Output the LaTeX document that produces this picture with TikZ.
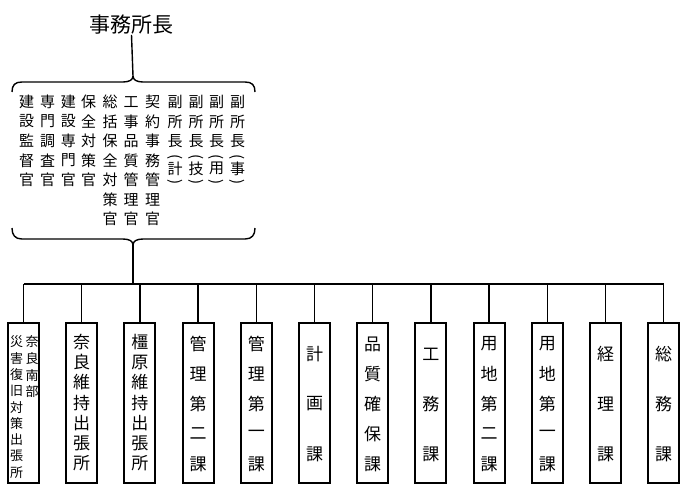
\documentclass[tikz,border=0pt]{standalone}
\usepackage{fontspec}
\newfontfamily\jp{Noto Sans CJK JP}
\newcommand\vtext[6][]{\foreach \c [count=\i] in {#6} {\node[#1] (#2-\i) at (#3, {#4+(\i-1)*#5}) {\c};}}
\begin{document}
\begin{tikzpicture}[x=1pt,y=-1pt,
  ch/.style={inner sep=0pt, font=\jp\fontsize{15}{15}\selectfont},
  par/.style={inner sep=0pt, font=\jp\fontsize{15}{15}\selectfont, rotate=-90},
  boxch/.style={inner sep=0pt, font=\jp\fontsize{17}{17}\selectfont},
  smallch/.style={inner sep=0pt, font=\jp\fontsize{13}{13}\selectfont},
  titletext/.style={inner sep=0pt, font=\jp\fontsize{21}{21}\selectfont},
  unit/.style={draw, line width=1.9pt, minimum width=31pt, minimum height=160pt, inner sep=0pt},
  link/.style={line width=1.4pt}]
\useasboundingbox (0,0) rectangle (700,500);
\fill[white] (0,0) rectangle (700,500);

% title
\node[titletext] (title) at (131.5,25) {事務所長};
\coordinate (ttip) at (133,76);
\coordinate (btip) at (133,245);
\coordinate (hub) at (133,284);
\draw[link] (title.south) -- (ttip);

% braces
\draw[link] (12,92) .. controls (12,85) and (15,82) .. (22,82) -- (123,82) .. controls (129,82) and (133,80) .. (ttip);
\draw[link] (255,92) .. controls (255,85) and (252,82) .. (245,82) -- (143,82) .. controls (137,82) and (133,80) .. (ttip);
\draw[link] (12,228) .. controls (12,235) and (15,239) .. (22,239) -- (123,239) .. controls (129,239) and (133,241) .. (btip);
\draw[link] (255,228) .. controls (255,235) and (252,239) .. (245,239) -- (143,239) .. controls (137,239) and (133,241) .. (btip);
\draw[link] (btip) -- (hub);

% staff columns
\vtext[ch]{u1}{26.7}{102}{19.5}{建,設,監,督,官}
\vtext[ch]{u2}{47.5}{102}{19.5}{専,門,調,査,官}
\vtext[ch]{u3}{68.3}{102}{19.5}{建,設,専,門,官}
\vtext[ch]{u4}{88.5}{102}{19.5}{保,全,対,策,官}
\vtext[ch]{u5}{110}{102}{19.5}{総,括,保,全,対,策,官}
\vtext[ch]{u6}{131}{102}{19.5}{工,事,品,質,管,理,官}
\vtext[ch]{u7}{152.5}{102}{19.5}{契,約,事,務,管,理,官}
\foreach \n/\x/\k in {u8/175/計, u9/196/技, u10/216.5/用, u11/237.5/事} {
  \vtext[ch]{\n}{\x}{102}{19.5}{副,所,長}
  \node[par] (\n-po) at (\x,157) {(};
  \node[ch] (\n-k) at (\x,168.5) {\k};
  \node[par] (\n-pc) at (\x,182) {)};
}

% units
\foreach \i in {1,...,12} {
  \node[unit] (b\i) at ({23.5+58.2*(\i-1)},403) {};
  \draw[link] (b\i.north) -- (b\i.north |- hub);
}
\draw[link] (b1.north |- hub) -- (b12.north |- hub);

% unit texts
\vtext[smallch]{t1a}{32}{342}{16.6}{奈,良,南,部}
\vtext[smallch]{t1b}{16.5}{342}{16.3}{災,害,復,旧,対,策,出,張,所}
\vtext[boxch]{t2}{81.7}{342}{20.2}{奈,良,維,持,出,張,所}
\vtext[boxch]{t3}{139.9}{342}{20.2}{橿,原,維,持,出,張,所}
\vtext[boxch]{t4}{198.1}{344}{30}{管,理,第,二,課}
\vtext[boxch]{t5}{256.3}{344}{30}{管,理,第,一,課}
\vtext[boxch]{t6}{314.5}{354}{50}{計,画,課}
\vtext[boxch]{t7}{372.7}{344}{30}{品,質,確,保,課}
\vtext[boxch]{t8}{430.9}{354}{50}{工,務,課}
\vtext[boxch]{t9}{489.1}{344}{30}{用,地,第,二,課}
\vtext[boxch]{t10}{547.3}{344}{30}{用,地,第,一,課}
\vtext[boxch]{t11}{605.5}{354}{50}{経,理,課}
\vtext[boxch]{t12}{663.7}{354}{50}{総,務,課}
\end{tikzpicture}
\end{document}
